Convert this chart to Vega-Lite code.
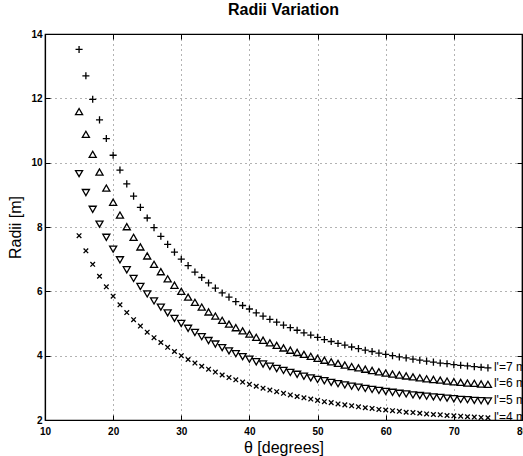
{
  "$schema": "https://vega.github.io/schema/vega-lite/v6.json",
  "width": 477,
  "height": 386,
  "autosize": {"type": "none"},
  "padding": {"left": 45, "top": 34, "right": 1, "bottom": 36},
  "background": "white",
  "config": {
    "font": "Liberation Sans",
    "view": {"stroke": "black", "strokeWidth": 1.2},
    "axis": {"domainColor": "black", "tickColor": "black", "labelColor": "black", "titleColor": "black"}
  },
  "title": {"text": "Radii Variation", "fontSize": 16, "fontWeight": "bold", "font": "Liberation Sans", "color": "black", "offset": 11, "anchor": "middle"},
  "datasets": {
    "radii": [
      {"t":15,"l":4,"r":7.73},{"t":15,"l":5,"r":9.66},{"t":15,"l":6,"r":11.59},{"t":15,"l":7,"r":13.52},
      {"t":16,"l":4,"r":7.26},{"t":16,"l":5,"r":9.07},{"t":16,"l":6,"r":10.88},{"t":16,"l":7,"r":12.70},
      {"t":17,"l":4,"r":6.84},{"t":17,"l":5,"r":8.55},{"t":17,"l":6,"r":10.26},{"t":17,"l":7,"r":11.97},
      {"t":18,"l":4,"r":6.47},{"t":18,"l":5,"r":8.09},{"t":18,"l":6,"r":9.71},{"t":18,"l":7,"r":11.33},
      {"t":19,"l":4,"r":6.14},{"t":19,"l":5,"r":7.68},{"t":19,"l":6,"r":9.21},{"t":19,"l":7,"r":10.75},
      {"t":20,"l":4,"r":5.85},{"t":20,"l":5,"r":7.31},{"t":20,"l":6,"r":8.77},{"t":20,"l":7,"r":10.23},
      {"t":21,"l":4,"r":5.58},{"t":21,"l":5,"r":6.98},{"t":21,"l":6,"r":8.37},{"t":21,"l":7,"r":9.77},
      {"t":22,"l":4,"r":5.34},{"t":22,"l":5,"r":6.67},{"t":22,"l":6,"r":8.01},{"t":22,"l":7,"r":9.34},
      {"t":23,"l":4,"r":5.12},{"t":23,"l":5,"r":6.40},{"t":23,"l":6,"r":7.68},{"t":23,"l":7,"r":8.96},
      {"t":24,"l":4,"r":4.92},{"t":24,"l":5,"r":6.15},{"t":24,"l":6,"r":7.38},{"t":24,"l":7,"r":8.61},
      {"t":25,"l":4,"r":4.73},{"t":25,"l":5,"r":5.92},{"t":25,"l":6,"r":7.10},{"t":25,"l":7,"r":8.28},
      {"t":26,"l":4,"r":4.56},{"t":26,"l":5,"r":5.70},{"t":26,"l":6,"r":6.84},{"t":26,"l":7,"r":7.98},
      {"t":27,"l":4,"r":4.41},{"t":27,"l":5,"r":5.51},{"t":27,"l":6,"r":6.61},{"t":27,"l":7,"r":7.71},
      {"t":28,"l":4,"r":4.26},{"t":28,"l":5,"r":5.33},{"t":28,"l":6,"r":6.39},{"t":28,"l":7,"r":7.46},
      {"t":29,"l":4,"r":4.13},{"t":29,"l":5,"r":5.16},{"t":29,"l":6,"r":6.19},{"t":29,"l":7,"r":7.22},
      {"t":30,"l":4,"r":4.00},{"t":30,"l":5,"r":5.00},{"t":30,"l":6,"r":6.00},{"t":30,"l":7,"r":7.00},
      {"t":31,"l":4,"r":3.88},{"t":31,"l":5,"r":4.85},{"t":31,"l":6,"r":5.82},{"t":31,"l":7,"r":6.80},
      {"t":32,"l":4,"r":3.77},{"t":32,"l":5,"r":4.72},{"t":32,"l":6,"r":5.66},{"t":32,"l":7,"r":6.60},
      {"t":33,"l":4,"r":3.67},{"t":33,"l":5,"r":4.59},{"t":33,"l":6,"r":5.51},{"t":33,"l":7,"r":6.43},
      {"t":34,"l":4,"r":3.58},{"t":34,"l":5,"r":4.47},{"t":34,"l":6,"r":5.36},{"t":34,"l":7,"r":6.26},
      {"t":35,"l":4,"r":3.49},{"t":35,"l":5,"r":4.36},{"t":35,"l":6,"r":5.23},{"t":35,"l":7,"r":6.10},
      {"t":36,"l":4,"r":3.40},{"t":36,"l":5,"r":4.25},{"t":36,"l":6,"r":5.10},{"t":36,"l":7,"r":5.95},
      {"t":37,"l":4,"r":3.32},{"t":37,"l":5,"r":4.15},{"t":37,"l":6,"r":4.98},{"t":37,"l":7,"r":5.82},
      {"t":38,"l":4,"r":3.25},{"t":38,"l":5,"r":4.06},{"t":38,"l":6,"r":4.87},{"t":38,"l":7,"r":5.68},
      {"t":39,"l":4,"r":3.18},{"t":39,"l":5,"r":3.97},{"t":39,"l":6,"r":4.77},{"t":39,"l":7,"r":5.56},
      {"t":40,"l":4,"r":3.11},{"t":40,"l":5,"r":3.89},{"t":40,"l":6,"r":4.67},{"t":40,"l":7,"r":5.45},
      {"t":41,"l":4,"r":3.05},{"t":41,"l":5,"r":3.81},{"t":41,"l":6,"r":4.57},{"t":41,"l":7,"r":5.33},
      {"t":42,"l":4,"r":2.99},{"t":42,"l":5,"r":3.74},{"t":42,"l":6,"r":4.48},{"t":42,"l":7,"r":5.23},
      {"t":43,"l":4,"r":2.93},{"t":43,"l":5,"r":3.67},{"t":43,"l":6,"r":4.40},{"t":43,"l":7,"r":5.13},
      {"t":44,"l":4,"r":2.88},{"t":44,"l":5,"r":3.60},{"t":44,"l":6,"r":4.32},{"t":44,"l":7,"r":5.04},
      {"t":45,"l":4,"r":2.83},{"t":45,"l":5,"r":3.54},{"t":45,"l":6,"r":4.24},{"t":45,"l":7,"r":4.95},
      {"t":46,"l":4,"r":2.78},{"t":46,"l":5,"r":3.48},{"t":46,"l":6,"r":4.17},{"t":46,"l":7,"r":4.87},
      {"t":47,"l":4,"r":2.73},{"t":47,"l":5,"r":3.42},{"t":47,"l":6,"r":4.10},{"t":47,"l":7,"r":4.79},
      {"t":48,"l":4,"r":2.69},{"t":48,"l":5,"r":3.36},{"t":48,"l":6,"r":4.04},{"t":48,"l":7,"r":4.71},
      {"t":49,"l":4,"r":2.65},{"t":49,"l":5,"r":3.31},{"t":49,"l":6,"r":3.98},{"t":49,"l":7,"r":4.64},
      {"t":50,"l":4,"r":2.61},{"t":50,"l":5,"r":3.26},{"t":50,"l":6,"r":3.92},{"t":50,"l":7,"r":4.57},
      {"t":51,"l":4,"r":2.57},{"t":51,"l":5,"r":3.22},{"t":51,"l":6,"r":3.86},{"t":51,"l":7,"r":4.50},
      {"t":52,"l":4,"r":2.54},{"t":52,"l":5,"r":3.17},{"t":52,"l":6,"r":3.81},{"t":52,"l":7,"r":4.44},
      {"t":53,"l":4,"r":2.50},{"t":53,"l":5,"r":3.13},{"t":53,"l":6,"r":3.76},{"t":53,"l":7,"r":4.38},
      {"t":54,"l":4,"r":2.47},{"t":54,"l":5,"r":3.09},{"t":54,"l":6,"r":3.71},{"t":54,"l":7,"r":4.33},
      {"t":55,"l":4,"r":2.44},{"t":55,"l":5,"r":3.05},{"t":55,"l":6,"r":3.66},{"t":55,"l":7,"r":4.27},
      {"t":56,"l":4,"r":2.41},{"t":56,"l":5,"r":3.02},{"t":56,"l":6,"r":3.62},{"t":56,"l":7,"r":4.22},
      {"t":57,"l":4,"r":2.38},{"t":57,"l":5,"r":2.98},{"t":57,"l":6,"r":3.58},{"t":57,"l":7,"r":4.17},
      {"t":58,"l":4,"r":2.36},{"t":58,"l":5,"r":2.95},{"t":58,"l":6,"r":3.54},{"t":58,"l":7,"r":4.13},
      {"t":59,"l":4,"r":2.33},{"t":59,"l":5,"r":2.92},{"t":59,"l":6,"r":3.50},{"t":59,"l":7,"r":4.08},
      {"t":60,"l":4,"r":2.31},{"t":60,"l":5,"r":2.89},{"t":60,"l":6,"r":3.46},{"t":60,"l":7,"r":4.04},
      {"t":61,"l":4,"r":2.29},{"t":61,"l":5,"r":2.86},{"t":61,"l":6,"r":3.43},{"t":61,"l":7,"r":4.00},
      {"t":62,"l":4,"r":2.27},{"t":62,"l":5,"r":2.83},{"t":62,"l":6,"r":3.40},{"t":62,"l":7,"r":3.96},
      {"t":63,"l":4,"r":2.24},{"t":63,"l":5,"r":2.81},{"t":63,"l":6,"r":3.37},{"t":63,"l":7,"r":3.93},
      {"t":64,"l":4,"r":2.23},{"t":64,"l":5,"r":2.78},{"t":64,"l":6,"r":3.34},{"t":64,"l":7,"r":3.89},
      {"t":65,"l":4,"r":2.21},{"t":65,"l":5,"r":2.76},{"t":65,"l":6,"r":3.31},{"t":65,"l":7,"r":3.86},
      {"t":66,"l":4,"r":2.19},{"t":66,"l":5,"r":2.74},{"t":66,"l":6,"r":3.28},{"t":66,"l":7,"r":3.83},
      {"t":67,"l":4,"r":2.17},{"t":67,"l":5,"r":2.72},{"t":67,"l":6,"r":3.26},{"t":67,"l":7,"r":3.80},
      {"t":68,"l":4,"r":2.16},{"t":68,"l":5,"r":2.70},{"t":68,"l":6,"r":3.24},{"t":68,"l":7,"r":3.77},
      {"t":69,"l":4,"r":2.14},{"t":69,"l":5,"r":2.68},{"t":69,"l":6,"r":3.21},{"t":69,"l":7,"r":3.75},
      {"t":70,"l":4,"r":2.13},{"t":70,"l":5,"r":2.66},{"t":70,"l":6,"r":3.19},{"t":70,"l":7,"r":3.72},
      {"t":71,"l":4,"r":2.12},{"t":71,"l":5,"r":2.64},{"t":71,"l":6,"r":3.17},{"t":71,"l":7,"r":3.70},
      {"t":72,"l":4,"r":2.10},{"t":72,"l":5,"r":2.63},{"t":72,"l":6,"r":3.15},{"t":72,"l":7,"r":3.68},
      {"t":73,"l":4,"r":2.09},{"t":73,"l":5,"r":2.61},{"t":73,"l":6,"r":3.14},{"t":73,"l":7,"r":3.66},
      {"t":74,"l":4,"r":2.08},{"t":74,"l":5,"r":2.60},{"t":74,"l":6,"r":3.12},{"t":74,"l":7,"r":3.64},
      {"t":75,"l":4,"r":2.07},{"t":75,"l":5,"r":2.59},{"t":75,"l":6,"r":3.11},{"t":75,"l":7,"r":3.62}
    ],
    "labels": [
      {"t":75,"r":3.62,"text":"l'=7 m"},
      {"t":75,"r":3.11,"text":"l'=6 m"},
      {"t":75,"r":2.59,"text":"l'=5 m"},
      {"t":75,"r":2.07,"text":"l'=4 m"}
    ]
  },
  "resolve": {"axis": {"x": "independent", "y": "independent"}},
  "layer": [
    {
      "data": {"name": "radii"},
      "mark": {"type": "point", "filled": false, "strokeWidth": 1.3, "color": "black", "opacity": 1, "clip": false},
      "encoding": {
        "x": {"field": "t", "type": "quantitative",
              "scale": {"domain": [10, 80], "nice": false, "zero": false},
              "axis": {"orient": "bottom", "values": [10,20,30,40,50,60,70,80], "title": "θ [degrees]",
                       "titleFontSize": 16, "titleFontWeight": "normal", "titlePadding": 3,
                       "labelFontSize": 10, "labelFontWeight": "bold", "labelPadding": 11, "labelFlush": false,
                       "tickSize": -5, "domain": true, "domainWidth": 1.2,
                       "grid": true, "gridColor": "#666", "gridDash": [1, 4], "gridWidth": 1}},
        "y": {"field": "r", "type": "quantitative",
              "scale": {"domain": [2, 14], "nice": false, "zero": false},
              "axis": {"orient": "left", "values": [2,4,6,8,10,12,14], "title": "Radii [m]",
                       "titleFontSize": 16, "titleFontWeight": "normal", "titlePadding": 7,
                       "labelFontSize": 10, "labelFontWeight": "bold", "labelPadding": 8, "labelFlush": false,
                       "tickSize": -5, "domain": true, "domainWidth": 1.2,
                       "grid": true, "gridColor": "#666", "gridDash": [1, 4], "gridWidth": 1}},
        "shape": {"field": "l", "type": "nominal", "legend": null,
                  "scale": {"domain": [7, 6, 5, 4],
                            "range": ["M-1,0L1,0M0,-1L0,1", "triangle-up", "triangle-down", "M-0.65,-0.65L0.65,0.65M-0.65,0.65L0.65,-0.65"]}},
        "size": {"value": 50}
      }
    },
    {
      "data": {"name": "labels"},
      "mark": {"type": "text", "align": "left", "baseline": "middle", "dx": 6, "dy": -1, "fontSize": 12, "color": "black", "clip": false},
      "encoding": {
        "x": {"field": "t", "type": "quantitative", "axis": null},
        "y": {"field": "r", "type": "quantitative", "axis": null},
        "text": {"field": "text"}
      }
    },
    {
      "data": {"name": "labels"},
      "mark": {"type": "point", "opacity": 0},
      "encoding": {
        "x": {"field": "t", "type": "quantitative",
              "axis": {"orient": "top", "values": [10,20,30,40,50,60,70,80], "labels": false, "title": null, "tickSize": -5, "grid": false, "domainWidth": 1.2}},
        "y": {"field": "r", "type": "quantitative",
              "axis": {"orient": "right", "values": [2,4,6,8,10,12,14], "labels": false, "title": null, "tickSize": -5, "grid": false, "domainWidth": 1.2}}
      }
    }
  ]
}
